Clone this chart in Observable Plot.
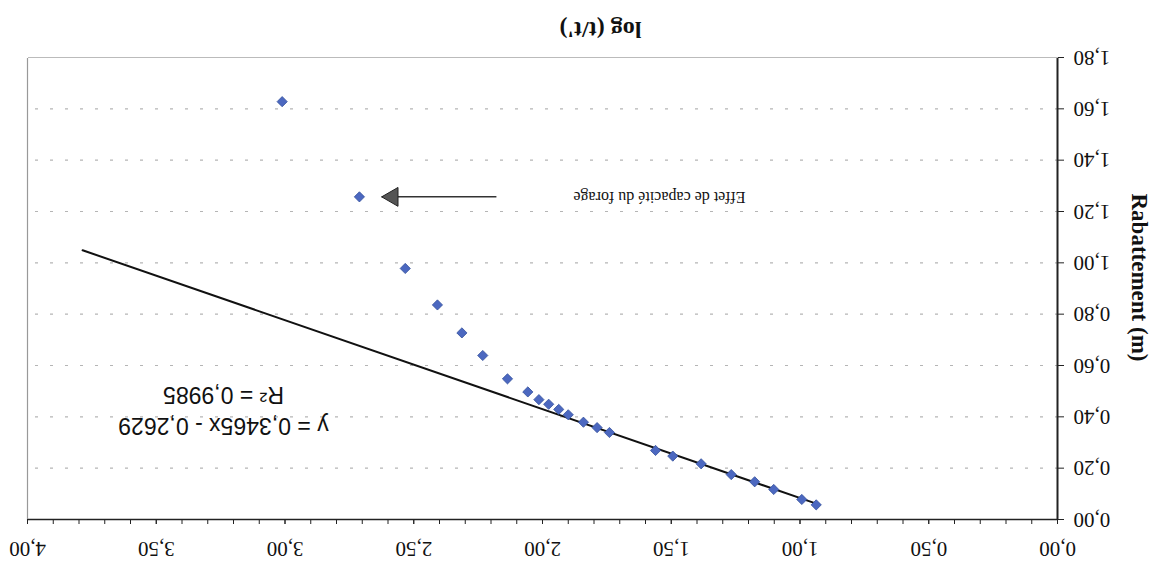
<!DOCTYPE html>
<html><head><meta charset="utf-8">
<script src="https://cdn.jsdelivr.net/npm/d3@7"></script>
<script src="https://cdn.jsdelivr.net/npm/@observablehq/plot@0.6"></script>
<style>
html,body{margin:0;padding:0;background:#fff;}
#chart{width:1158px;height:569px;transform:rotate(180deg);transform-origin:50% 50%;}
#chart svg{display:block;}
</style></head><body><div id="chart"></div>
<script>
// log (t/t') values
const logRatio = [3.011, 2.711, 2.533, 2.408, 2.313, 2.232, 2.136, 2.057, 2.014, 1.976, 1.937, 1.900, 1.841, 1.788, 1.740, 1.561, 1.494, 1.384, 1.267, 1.176, 1.102, 0.993, 0.937];
// Rabattement (m)
const drawdown = [1.628, 1.257, 0.978, 0.836, 0.727, 0.639, 0.548, 0.497, 0.467, 0.449, 0.429, 0.408, 0.379, 0.358, 0.339, 0.269, 0.247, 0.217, 0.175, 0.147, 0.117, 0.078, 0.057];
// Excel linear trend line
const trendSlope = 0.3465;
const trendIntercept = -0.2629;
const trendXRange = [0.937, 3.786];
const equationLines = ["y = 0,3465x - 0,2629", "R² = 0,9985"];
const annotationLabel = "Effet de capacité du forage";
const xTitle = "log (t/t')";
const yTitle = "Rabattement (m)";
const xMinorTicks = d3.range(0, 41).map(i => i / 10);
const xLabelTicks = [0, 0.5, 1, 1.5, 2, 2.5, 3, 3.5, 4];
const yTicks = [0, 0.2, 0.4, 0.6, 0.8, 1.0, 1.2, 1.4, 1.6, 1.8];

const points = logRatio.map((x, i) => ({x, y: drawdown[i]}));
const trend = trendXRange.map(x => ({x, y: trendSlope * x + trendIntercept}));
const arrowNote = [{text: annotationLabel, labelX: 1.546, from: 2.179, to: 2.625, y: 1.257}];
const eqNote = [{text: equationLines.join("\n"), x: 3.239, y: 0.419}];
const fmt = d => d.toFixed(2).replace(".", ",");

const chart = Plot.plot({
  width: 1158,
  height: 569,
  marginLeft: 100,
  marginRight: 28,
  marginTop: 49,
  marginBottom: 58,
  style: {fontFamily: "Liberation Serif", fontSize: "21px", background: "#fff", color: "#111"},
  x: {domain: [0, 4]},
  y: {domain: [0, 1.8], reverse: true},
  marks: [
    Plot.ruleY(yTicks.filter(d => d > 0 && d < 1.8), {stroke: "#b5b5b5", strokeDasharray: "3,12", strokeWidth: 1.2}),
    Plot.ruleX([4], {stroke: "#999", strokeWidth: 1.2}),
    Plot.ruleY([1.8], {stroke: "#bbb", strokeWidth: 1.2}),
    Plot.axisX({anchor: "top", ticks: xMinorTicks, tickSize: 5, tickFormat: () => "", label: null, stroke: "#222"}),
    Plot.axisX({anchor: "top", ticks: xLabelTicks, tickSize: 5, tickPadding: 17, tickFormat: fmt, label: null, fontSize: 21, stroke: "#222"}),
    Plot.axisY({anchor: "left", ticks: yTicks, tickSize: 6, tickPadding: 10, tickFormat: fmt, label: null, fontSize: 21, stroke: "#222"}),
    Plot.ruleX([0], {stroke: "#222", strokeWidth: 2}),
    Plot.ruleY([0], {stroke: "#222", strokeWidth: 1.5}),
    Plot.line(trend, {x: "x", y: "y", stroke: "#111", strokeWidth: 2}),
    Plot.dot(points, {x: "x", y: "y", symbol: "diamond2", r: 4.6, fill: "#4c68c0", stroke: "#34509c", strokeWidth: 0.8}),
    Plot.link(arrowNote, {x1: "from", x2: "to", y1: "y", y2: "y", stroke: "#333", strokeWidth: 1.5}),
    Plot.dot(arrowNote, {x: "to", y: "y", symbol: "triangle", rotate: 90, r: 7, dx: -11, fill: "#555", stroke: "#222", strokeWidth: 1}),
    Plot.text(arrowNote, {x: "labelX", y: "y", text: "text", fontSize: 16, fontFamily: "Liberation Serif", fill: "#111"}),
    Plot.text(eqNote, {x: "x", y: "y", text: "text", fontSize: 23, lineHeight: 1.35, fontFamily: "Liberation Sans", fill: "#111"}),
    Plot.text([xTitle], {x: 1.775, frameAnchor: "bottom", dy: 36, text: d => d, fontSize: 24, fontWeight: "bold", fontFamily: "Liberation Serif", fill: "#111"}),
    Plot.text([yTitle], {y: 0.943, frameAnchor: "left", dx: -82, rotate: -90, textAnchor: "middle", text: d => d, fontSize: 23, fontWeight: "bold", fontFamily: "Liberation Serif", fill: "#111"})
  ]
});
document.getElementById("chart").append(chart);
</script></body></html>
